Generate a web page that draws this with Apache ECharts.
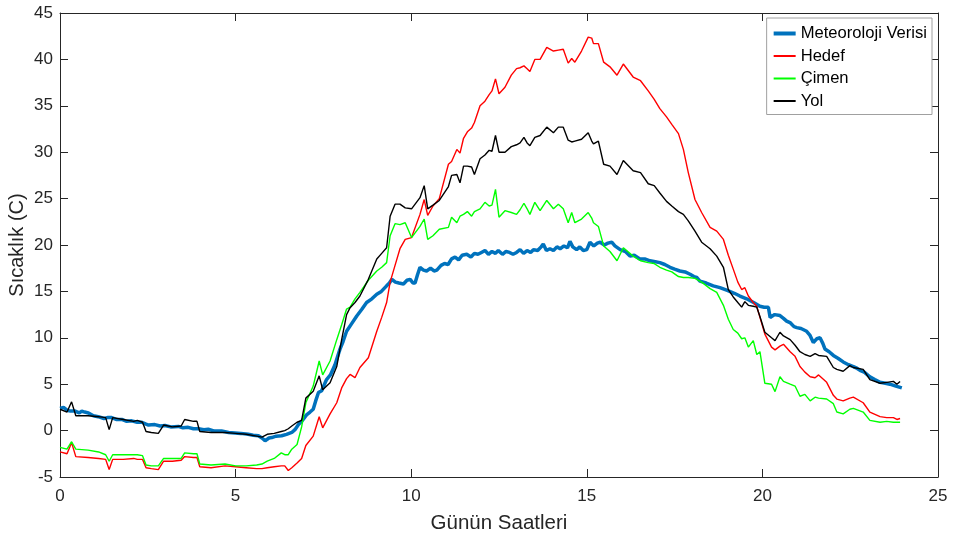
<!DOCTYPE html>
<html>
<head>
<meta charset="utf-8">
<script src="https://cdn.jsdelivr.net/npm/echarts@6/dist/echarts.min.js"></script>
<style>
html,body{margin:0;padding:0;background:#fff;}
#chart{width:954px;height:535px;}
</style>
</head>
<body>
<div id="chart"></div>
<script>
// ---- data ----
const seriesNames = ['Meteoroloji Verisi', 'Hedef', 'Çimen', 'Yol'];
const xTicks = [0, 5, 10, 15, 20, 25];
const yTicks = [-5, 0, 5, 10, 15, 20, 25, 30, 35, 40, 45];

// shared sample times (hours) of Hedef / Çimen / Yol sensors
const sensorHours = [
  0.00,0.20,0.33,0.45,0.80,1.10,1.30,1.40,1.50,1.80,
  2.10,2.20,2.35,2.45,2.60,2.80,2.95,3.20,3.45,3.55,
  3.80,3.90,3.98,4.30,4.70,5.00,5.30,5.60,5.75,5.90,
  6.10,6.30,6.40,6.50,6.60,6.75,6.88,7.00,7.21,7.38,
  7.48,7.69,7.88,8.02,8.16,8.26,8.40,8.54,8.78,9.02,
  9.16,9.30,9.40,9.54,9.68,9.83,10.01,10.25,10.37,10.47,
  10.62,10.80,11.06,11.15,11.30,11.39,11.49,11.60,11.72,11.80,
  11.96,12.10,12.22,12.30,12.40,12.50,12.67,12.85,13.00,13.10,
  13.21,13.30,13.38,13.52,13.67,13.86,14.05,14.19,14.33,14.47,
  14.57,14.66,14.85,15.04,15.14,15.19,15.33,15.48,15.66,15.86,
  16.04,16.32,16.53,16.75,16.92,17.08,17.27,17.42,17.61,17.75,
  17.89,18.08,18.27,18.51,18.70,18.89,19.03,19.17,19.30,19.41,
  19.50,19.60,19.74,19.84,19.93,20.07,20.26,20.36,20.50,20.60,
  20.79,20.93,21.07,21.21,21.36,21.50,21.60,21.83,22.02,22.12,
  22.30,22.49,22.59,22.87,23.06,23.35,23.54,23.73,23.83,23.92
];
const hedefTemps = [
  -2.3,-2.5,-1.3,-2.8,-2.9,-3.0,-3.1,-4.2,-3.1,-3.1,
  -3.0,-3.1,-3.1,-4.0,-4.1,-4.2,-3.3,-3.3,-3.2,-2.8,
  -2.9,-2.9,-3.9,-4.0,-3.8,-3.9,-4.0,-4.1,-4.1,-4.0,
  -3.9,-3.8,-3.8,-4.3,-4.0,-3.5,-3.0,-1.6,-0.6,1.5,
  0.3,1.8,3.0,4.6,5.6,6.05,5.7,6.8,7.85,10.7,
  12.2,13.8,16.0,17.8,19.6,20.6,20.8,23.3,24.9,23.2,
  24.2,25.0,28.7,29.0,30.3,29.9,31.5,32.2,32.6,33.2,
  35.0,35.5,36.2,36.6,37.9,36.3,37.0,38.3,39.0,39.1,
  39.3,39.0,38.7,40.0,40.0,41.3,40.9,41.0,41.1,39.6,
  40.1,39.7,40.9,42.4,42.3,41.7,41.7,39.7,39.2,38.3,
  39.5,38.1,37.7,36.6,35.7,34.7,33.8,33.0,32.0,30.3,
  27.8,24.9,23.5,21.9,21.5,20.6,18.9,17.4,16.0,15.2,
  15.4,14.5,13.8,13.4,12.2,10.4,9.0,8.7,9.1,9.3,
  8.5,8.0,6.9,6.3,5.8,5.7,6.0,5.2,3.8,3.4,
  3.2,3.5,3.6,3.0,2.0,1.5,1.4,1.4,1.2,1.3
];
const cimenTemps = [
  -1.8,-2.0,-1.2,-2.0,-2.1,-2.3,-2.6,-3.3,-2.6,-2.6,
  -2.6,-2.6,-2.7,-3.7,-3.8,-3.8,-3.0,-3.0,-3.0,-2.4,
  -2.5,-2.5,-3.6,-3.7,-3.6,-3.8,-3.8,-3.7,-3.6,-3.3,
  -3.0,-2.4,-2.6,-2.6,-2.0,-1.5,0.4,3.0,4.8,7.5,
  6.0,7.5,9.8,11.4,13.1,13.3,14.2,14.9,16.2,17.2,
  17.6,18.1,21.0,22.3,22.2,22.4,20.8,22.0,22.8,20.6,
  21.0,21.7,21.9,23.0,22.4,23.1,23.3,23.6,23.1,23.6,
  23.9,24.6,24.2,24.3,26.0,23.0,23.7,23.5,23.3,23.8,
  24.5,23.9,23.3,24.6,23.7,24.8,23.9,24.4,23.9,22.4,
  23.5,22.4,22.8,23.5,22.9,22.4,22.0,19.9,19.3,18.3,
  19.7,18.8,18.3,18.1,18.0,17.6,17.3,17.1,16.6,16.5,
  16.5,16.4,16.0,15.3,14.9,13.5,12.0,10.9,10.5,9.9,
  10.0,9.0,9.7,8.2,8.5,5.1,5.0,4.2,5.8,5.3,
  5.0,4.8,3.7,3.9,3.2,3.6,3.5,3.4,2.9,2.0,
  1.8,2.3,2.4,2.0,1.1,0.9,1.0,0.9,0.9,0.9
];
const yolTemps = [
  2.3,2.0,3.1,1.6,1.6,1.5,1.4,0.1,1.4,1.2,
  1.0,1.1,0.9,-0.1,-0.2,-0.3,0.6,0.4,0.5,1.2,
  1.0,1.0,-0.1,-0.2,-0.2,-0.3,-0.4,-0.6,-0.7,-0.4,
  -0.3,-0.1,0.0,0.2,0.5,0.9,1.1,3.5,4.25,5.9,
  4.4,5.15,6.9,9.8,12.5,13.25,13.8,14.5,16.3,18.5,
  19.1,19.7,23.1,24.4,24.4,24.0,23.9,25.1,26.4,23.9,
  24.3,24.8,26.3,27.5,27.6,26.7,28.5,28.5,28.4,27.6,
  29.3,29.7,30.2,30.1,31.8,30.0,30.0,30.6,30.8,31.0,
  31.6,31.0,30.7,31.6,31.8,32.7,32.1,32.7,32.7,31.3,
  31.1,31.2,31.4,32.1,31.2,30.9,31.2,28.7,28.5,27.6,
  29.1,28.0,27.8,26.6,26.4,25.6,24.7,24.2,23.6,23.3,
  22.6,21.5,20.3,19.6,18.8,17.6,15.2,14.4,13.8,13.3,
  13.9,13.5,13.4,13.3,12.3,10.6,10.0,9.7,10.6,10.2,
  9.8,9.2,8.5,8.2,8.0,8.3,8.1,8.0,6.8,6.6,
  6.4,7.0,6.8,6.6,5.5,5.1,5.2,5.3,5.0,5.3
];

// weather-station series (own sample times)
const meteoHours = [
  0.00,0.10,0.20,0.30,0.43,0.55,0.62,0.70,0.81,0.95,
  1.09,1.25,1.35,1.47,1.60,1.76,1.90,2.04,2.20,2.33,
  2.45,2.52,2.70,2.85,2.99,3.15,3.37,3.50,3.65,3.80,
  3.94,4.10,4.22,4.40,4.60,4.80,4.98,5.15,5.36,5.50,
  5.65,5.75,5.84,5.95,6.03,6.15,6.31,6.45,6.60,6.69,
  6.79,6.88,7.02,7.12,7.21,7.28,7.36,7.45,7.59,7.70,
  7.83,7.97,8.06,8.16,8.30,8.45,8.60,8.73,8.88,9.02,
  9.15,9.30,9.38,9.45,9.55,9.65,9.78,9.88,9.97,10.05,
  10.11,10.18,10.25,10.35,10.44,10.55,10.65,10.73,10.85,10.95,
  11.05,11.15,11.25,11.35,11.45,11.58,11.70,11.80,11.90,12.00,
  12.10,12.20,12.30,12.40,12.48,12.60,12.70,12.80,12.90,13.00,
  13.10,13.20,13.30,13.40,13.48,13.60,13.70,13.76,13.85,13.95,
  14.05,14.15,14.24,14.35,14.45,14.52,14.60,14.71,14.80,14.90,
  15.00,15.09,15.20,15.30,15.38,15.50,15.60,15.71,15.80,15.95,
  16.10,16.23,16.35,16.51,16.65,16.80,16.95,17.08,17.22,17.37,
  17.50,17.65,17.80,17.94,18.05,18.13,18.22,18.40,18.60,18.79,
  19.00,19.20,19.36,19.55,19.75,19.93,20.05,20.17,20.22,20.35,
  20.50,20.60,20.69,20.80,20.90,20.98,21.10,21.26,21.35,21.45,
  21.55,21.64,21.72,21.78,21.90,22.02,22.15,22.30,22.45,22.59,
  22.70,22.78,22.90,23.06,23.20,23.35,23.50,23.63,23.80,23.97
];
const meteoTemps = [
  2.4,2.5,2.2,2.1,2.1,1.9,2.1,2.0,1.9,1.6,
  1.5,1.3,1.4,1.4,1.2,1.2,1.0,1.05,0.9,0.9,
  0.7,0.6,0.65,0.5,0.55,0.4,0.45,0.3,0.35,0.2,
  0.2,0.1,0.15,-0.05,-0.05,-0.2,-0.25,-0.3,-0.4,-0.5,
  -0.55,-0.8,-1.1,-0.8,-0.75,-0.6,-0.55,-0.4,-0.2,0.1,
  0.65,1.0,1.7,2.0,2.3,3.2,4.1,4.3,5.5,6.0,
  7.1,8.75,9.6,10.7,11.5,12.35,13.1,13.8,14.2,14.7,
  15.0,15.6,15.9,16.3,16.0,15.9,15.8,16.2,16.3,15.9,
  15.9,16.8,17.6,17.3,17.2,17.5,17.2,17.3,17.8,18.0,
  17.9,18.5,18.7,18.4,18.9,19.0,18.7,19.1,19.0,19.2,
  19.4,19.0,19.3,19.1,19.4,19.0,19.3,19.2,19.0,19.2,
  19.5,19.1,19.4,19.2,19.5,19.4,19.8,20.1,19.4,19.6,
  19.4,19.8,19.6,19.9,19.7,20.4,19.8,19.5,19.8,19.4,
  19.5,20.3,19.9,20.2,20.3,20.0,20.2,20.3,19.9,19.5,
  19.3,18.8,18.9,18.5,18.5,18.3,18.2,18.1,17.9,17.6,
  17.4,17.2,17.1,16.85,16.6,16.5,16.1,15.9,15.6,15.4,
  15.1,14.8,14.5,14.2,13.8,13.4,13.3,13.3,12.2,12.5,
  12.4,12.1,11.8,11.6,11.2,11.1,11.0,10.7,10.3,9.5,
  9.9,10.0,9.4,8.8,8.5,8.1,7.8,7.4,7.1,6.9,
  6.7,6.5,6.3,5.8,5.5,5.2,5.1,5.0,4.8,4.6
];

// ---- chart ----
const pair = (xs, ys) => xs.map((x, i) => [x, ys[i]]);
const FONT = '"Liberation Sans", Arial, sans-serif';
const AX = '#262626';

const chart = echarts.init(document.getElementById('chart'), null, {renderer: 'canvas'});

const baseX = {
  type: 'value', min: xTicks[0], max: xTicks[xTicks.length - 1], interval: xTicks[1] - xTicks[0],
  splitLine: {show: false},
  axisLine: {show: true, onZero: false, lineStyle: {color: AX, width: 1}},
  axisTick: {show: true, inside: true, length: 8, lineStyle: {color: AX}}
};
const baseY = {
  type: 'value', min: yTicks[0], max: yTicks[yTicks.length - 1], interval: yTicks[1] - yTicks[0],
  splitLine: {show: false},
  axisLine: {show: true, onZero: false, lineStyle: {color: AX, width: 1}},
  axisTick: {show: true, inside: true, length: 8, lineStyle: {color: AX}}
};

const lineColors = ['#0072BD', '#FF0000', '#00FF00', '#000000'];
const lineWidths = [3.5, 1.4, 1.4, 1.4];
const legendWidths = [4, 2, 2, 2];

chart.setOption({
  animation: false,
  backgroundColor: '#fff',
  textStyle: {fontFamily: FONT},
  grid: {left: 60, right: 16, top: 13, bottom: 58, containLabel: false, outerBoundsMode: 'none'},
  xAxis: [
    Object.assign({}, baseX, {
      position: 'bottom',
      name: 'Günün Saatleri', nameLocation: 'middle', nameGap: 36, nameMoveOverlap: false,
      nameTextStyle: {fontSize: 20.5, color: AX, fontFamily: FONT},
      axisLabel: {show: true, margin: 11, fontSize: 17, color: AX, fontFamily: FONT}
    }),
    Object.assign({}, baseX, {position: 'top', axisLabel: {show: false}})
  ],
  yAxis: [
    Object.assign({}, baseY, {
      position: 'left',
      name: 'Sıcaklık (C)', nameLocation: 'middle', nameGap: 33, nameMoveOverlap: false,
      nameTextStyle: {fontSize: 20, color: AX, fontFamily: FONT},
      axisLabel: {show: true, margin: 7, fontSize: 17, color: AX, fontFamily: FONT}
    }),
    Object.assign({}, baseY, {position: 'right', axisLabel: {show: false}})
  ],
  legend: {
    orient: 'vertical', right: 22, top: 18,
    backgroundColor: '#fff', borderColor: '#a0a0a0', borderWidth: 1, borderRadius: 0,
    padding: [7, 5, 5, 5], itemWidth: 22, itemHeight: 14, itemGap: 5.5,
    itemStyle: {color: 'rgba(0,0,0,0)', borderColor: 'rgba(0,0,0,0)', borderWidth: 0},
    textStyle: {fontSize: 16.6, color: '#000', fontFamily: FONT},
    data: seriesNames.map((n, i) => ({name: n, lineStyle: {width: legendWidths[i], color: lineColors[i]}}))
  },
  series: seriesNames.map((n, i) => ({
    name: n, type: 'line', showSymbol: false, symbol: 'none',
    data: i === 0 ? pair(meteoHours, meteoTemps)
        : pair(sensorHours, [null, hedefTemps, cimenTemps, yolTemps][i]),
    lineStyle: {color: lineColors[i], width: lineWidths[i]},
    itemStyle: {color: lineColors[i]}
  }))
});
</script>
</body>
</html>
